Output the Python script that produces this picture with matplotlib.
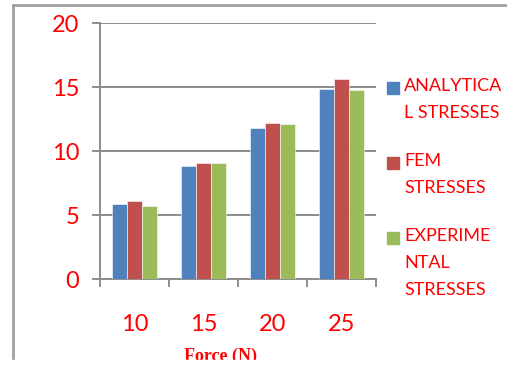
"""Stress comparison bar chart: analytical vs FEM vs experimental."""

import matplotlib.pyplot as plt
import numpy as np
from matplotlib.lines import Line2D
from matplotlib.patches import Rectangle

forces = ["10", "15", "20", "25"]
analytical = [5.86, 8.85, 11.82, 14.82]
fem = [6.07, 9.04, 12.19, 15.6]
experimental = [5.73, 9.04, 12.1, 14.77]
series_labels = ["ANALYTICA\nL STRESSES", "FEM\nSTRESSES", "EXPERIME\nNTAL\nSTRESSES"]
colors = ["#4F81BD", "#C0504D", "#9BBB59"]

W, H = 507, 365
RED = "#FF0000"
GRID = "#8C8C8C"
FONT = "Lato"

fig = plt.figure(figsize=(W / 100, H / 100), dpi=100)
ax = fig.add_axes([100 / W, 1 - 279 / H, 276 / W, 256 / H])

x = np.arange(len(forces))
bw = 0.22
for k, vals in enumerate([analytical, fem, experimental]):
    ax.bar(x + (k - 1) * bw, vals, width=bw, color=colors[k],
           edgecolor="white", linewidth=0.4, zorder=3)

ax.set_xlim(-0.5, len(forces) - 0.5)
ax.set_ylim(0, 20)
ax.set_yticks([0, 5, 10, 15, 20])
ax.yaxis.grid(True, color=GRID, linewidth=1.4, zorder=0)
ax.set_axisbelow(True)

# category boundaries carry the x tick marks, labels sit at centers
ax.set_xticks(np.arange(-0.5, len(forces)), minor=False)
ax.set_xticklabels([])
ax.set_xticks(x, minor=True)
ax.set_xticklabels(forces, minor=True)
ax.tick_params(axis="x", which="major", direction="out", length=6,
               width=1.4, color=GRID)
ax.tick_params(axis="x", which="minor", length=0, pad=25,
               labelsize=17, labelcolor=RED)
ax.tick_params(axis="y", direction="out", length=6, width=1.4, color=GRID,
               labelsize=17, labelcolor=RED, pad=9)
for lab in ax.get_xticklabels(minor=True) + ax.get_yticklabels():
    lab.set_fontfamily(FONT)

for side in ["top", "right"]:
    ax.spines[side].set_visible(False)
for side in ["left", "bottom"]:
    ax.spines[side].set_color(GRID)
    ax.spines[side].set_linewidth(1.4)

fig.text(221 / W, 1 - 348 / H, "Force (N)", ha="center", va="top",
         color=RED, fontsize=13, fontweight="bold", family="Liberation Serif")

# legend drawn by hand
tops = [78, 153, 228]
for lbl, c, t in zip(series_labels, colors, tops):
    fig.patches.append(Rectangle((387 / W, 1 - (t + 16) / H), 12 / W, 12 / H,
                                 transform=fig.transFigure, color=c))
    fig.text(404 / W, 1 - t / H, lbl, ha="left", va="top", color=RED,
             fontsize=13, family=FONT, linespacing=1.86)

# outer chart frame
fig.lines.append(Line2D([13 / W, 13 / W], [1 - 5 / H, 0], transform=fig.transFigure,
                        color="#A0A0A0", linewidth=2))
fig.lines.append(Line2D([13 / W, 1], [1 - 5 / H, 1 - 5 / H], transform=fig.transFigure,
                        color="#A0A0A0", linewidth=2))
fig.patches.append(Rectangle((0, 0), 1, 5 / H, transform=fig.transFigure,
                             color="white", zorder=10))

fig.savefig("out.png", dpi=100)
